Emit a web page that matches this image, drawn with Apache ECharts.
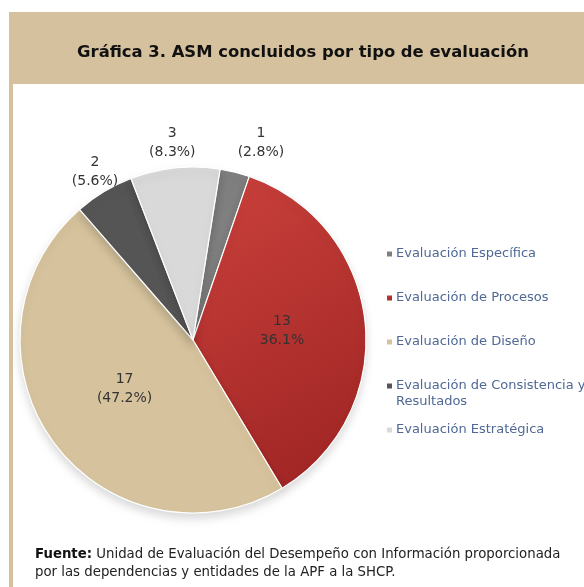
<!DOCTYPE html>
<html>
<head>
<meta charset="utf-8">
<script src="https://cdn.jsdelivr.net/npm/echarts@6/dist/echarts.min.js"></script>
<style>
  html, body { margin: 0; padding: 0; background: #fff; }
  #chart { width: 584px; height: 587px; }
</style>
</head>
<body>
<div id="chart"></div>
<script>
// datos de la gráfica
var categorias = [
  "Evaluación Específica",
  "Evaluación de Procesos",
  "Evaluación de Diseño",
  "Evaluación de Consistencia y Resultados",
  "Evaluación Estratégica"
];
var valores = [1, 13, 17, 2, 3];
var colores = ["#7f7f7f", "#bd3532", "#d6c39d", "#555555", "#d9d9d9"];
var etiquetaFuera = [true, false, false, true, true];

var titulo = "Gráfica 3. ASM concluidos por tipo de evaluación";
var fuente = "Unidad de Evaluación del Desempeño con Información proporcionada";
var fuente2 = "por las dependencias y entidades de la APF a la SHCP.";

var fam = "'DejaVu Sans', 'Open Sans', sans-serif";
var beige = "#d5c19d";

var rojo = {
  type: "linear", x: 0, y: 0, x2: 1, y2: 1,
  colorStops: [{ offset: 0, color: "#cb413c" }, { offset: 1, color: "#9c2322" }]
};

var datos = valores.map(function (v, i) {
  var item = {
    name: categorias[i],
    value: v,
    itemStyle: { color: i === 1 ? rojo : colores[i] }
  };
  if (etiquetaFuera[i]) {
    item.label = { position: "outside", formatter: "{c}\n({d}%)" };
  } else if (i === 1) {
    item.label = { position: "inside", formatter: "{c}\n{d}%" };
  }
  return item;
});

var legendText = { fontFamily: fam, fontSize: 13, color: "#4f6896", lineHeight: 16, padding: [0, 0, 0, -2] };

var chart = echarts.init(document.getElementById("chart"));
chart.setOption({
  backgroundColor: "#fff",
  animation: false,
  graphic: [
    { type: "rect", shape: { x: 9, y: 12, width: 575, height: 72 }, style: { fill: beige }, z: -1 },
    { type: "rect", shape: { x: 9, y: 84, width: 4, height: 503 }, style: { fill: beige }, z: -1 }
  ],
  title: [
    {
      text: titulo,
      left: 298, top: 40, textAlign: "center",
      textStyle: { fontFamily: fam, fontSize: 16.4, fontWeight: "bold", color: "#111" }
    },
    {
      text: "{b|Fuente:} " + fuente + "\n" + fuente2,
      left: 35, top: 546, padding: 0,
      textStyle: {
        fontFamily: fam, fontSize: 13.3, fontWeight: "normal", color: "#222", lineHeight: 18,
        rich: { b: { fontFamily: fam, fontSize: 13.3, fontWeight: "bold", color: "#111", lineHeight: 18 } }
      }
    }
  ],
  legend: [
    {
      orient: "vertical",
      left: 385, top: 246, padding: 0,
      itemWidth: 7, itemHeight: 7, itemGap: 28,
      icon: "rect",
      data: categorias.slice(0, 3),
      textStyle: legendText
    },
    {
      // la primera línea vacía deja el marcador a la altura del primer renglón
      orient: "vertical",
      left: 385, top: 362, padding: 0,
      itemWidth: 7, itemHeight: 7, itemGap: 12,
      icon: "rect",
      data: categorias.slice(3),
      formatter: function (n) {
        return n.indexOf(" y ") > 0 ? " \n" + n.replace(" y ", " y\n") : n;
      },
      textStyle: legendText
    }
  ],
  series: [{
    type: "pie",
    center: [193, 340],
    radius: 173,
    startAngle: 81,
    clockwise: true,
    percentPrecision: 1,
    avoidLabelOverlap: false,
    itemStyle: { borderColor: "#fff", borderWidth: 1.2, shadowBlur: 8, shadowColor: "rgba(0,0,0,0.14)", shadowOffsetY: 5 },
    label: {
      position: "inside",
      formatter: "{c}\n({d}%)",
      fontFamily: fam, fontSize: 14, color: "#333", lineHeight: 19,
      distanceToLabelLine: 0
    },
    labelLine: { show: false, length: 25, length2: 0 },
    labelLayout: function (p) {
      var l = { align: "center" };
      if (p.dataIndex === 0) { l.dx = 20; l.dy = -5; }
      if (p.dataIndex === 2) { l.dx = 4; l.dy = -4; }
      if (p.dataIndex === 3) { l.dx = 4; l.dy = 2; }
      return l;
    },
    data: datos
  }]
});
</script>
</body>
</html>
